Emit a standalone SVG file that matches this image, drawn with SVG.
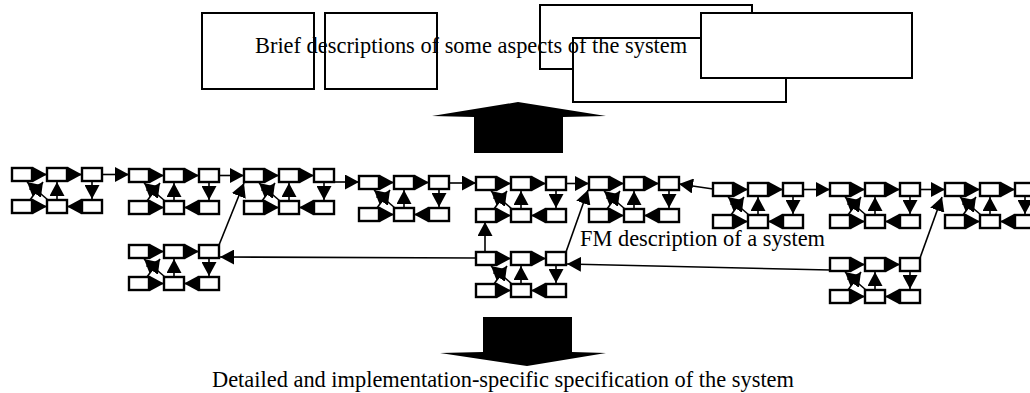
<svg xmlns="http://www.w3.org/2000/svg" width="1030" height="393" viewBox="0 0 1030 393">
  <style>
    .frame{fill:#fff;stroke:#000;stroke-width:2}
    .fmbox{fill:#fff;stroke:#000;stroke-width:2.4}
    .link{fill:none;stroke:#000;stroke-width:1.6;marker-end:url(#ah)}
    .lbl{font-family:"Liberation Serif","Times New Roman",serif;font-size:22.4px;fill:#000}
    .bigarrow{fill:#000;stroke:none}
  </style>
  <defs>
    <marker id="ah" markerUnits="userSpaceOnUse" markerWidth="14" markerHeight="15" viewBox="0 0 14 15" refX="14" refY="7.5" orient="auto">
      <path d="M0,0L14,7.5L0,15Z"/>
    </marker>
    <!-- one FM fragment: three upper and three lower boxes with their links -->
    <g id="fm">
      <rect class="fmbox" x="0" y="0" width="20" height="13"/>
      <rect class="fmbox" x="35" y="0" width="20" height="13"/>
      <rect class="fmbox" x="70" y="0" width="20" height="13"/>
      <rect class="fmbox" x="0" y="32" width="20" height="13"/>
      <rect class="fmbox" x="35" y="32" width="20" height="13"/>
      <rect class="fmbox" x="70" y="32" width="20" height="13"/>
      <path class="link" d="M20,6.5H35"/>
      <path class="link" d="M55,6.5H70"/>
      <path class="link" d="M80,13V31"/>
      <path class="link" d="M70,38.5H55"/>
      <path class="link" d="M20,38.5H35"/>
      <path class="link" d="M45,32V14"/>
      <path class="link" d="M36,32L15,14"/>
      <path class="link" d="M18,32L31,14"/>
    </g>
  </defs>

  <!-- brief descriptions -->
  <g id="brief-1"><rect class="frame" x="202" y="13" width="112" height="76"/></g>
  <g id="brief-2"><rect class="frame" x="325" y="13" width="112" height="76"/></g>
  <g id="brief-3"><rect class="frame" x="540" y="5" width="212" height="64"/></g>
  <g id="brief-4"><rect class="frame" x="573" y="38" width="213" height="64"/></g>
  <g id="brief-5"><rect class="frame" x="701" y="13" width="211" height="65"/></g>

  <!-- abstraction / refinement arrows -->
  <path class="bigarrow" d="M518,102L606,116L563,117L563,153L474,153L474,117L432,116Z"/>
  <path class="bigarrow" d="M483,317L572,317L572,352L606,353L527,366L440,353L483,352Z"/>

  <!-- links between fragments -->
  <g id="connectors">
    <path class="link" d="M102,174.5H129"/>
    <path class="link" d="M219,175.5H244"/>
    <path class="link" d="M334,182H359"/>
    <path class="link" d="M449,183H476"/>
    <path class="link" d="M566,183.5H589"/>
    <path class="link" d="M713,189L679,184"/>
    <path class="link" d="M803,189.5H830"/>
    <path class="link" d="M920,189.5H945"/>
    <path class="link" d="M219,245L244,183"/>
    <path class="link" d="M476,258L220,257"/>
    <path class="link" d="M485,252V222"/>
    <path class="link" d="M566,252L588,190"/>
    <path class="link" d="M830,270L567,264"/>
    <path class="link" d="M920,258L942,197"/>
  </g>

  <!-- FM fragments -->
  <g id="fm-1" transform="translate(12,168)"><use href="#fm"/></g>
  <g id="fm-2" transform="translate(129,169)"><use href="#fm"/></g>
  <g id="fm-3" transform="translate(244,169)"><use href="#fm"/></g>
  <g id="fm-4" transform="translate(359,176)"><use href="#fm"/></g>
  <g id="fm-5" transform="translate(476,177)"><use href="#fm"/></g>
  <g id="fm-6" transform="translate(589,177)"><use href="#fm"/></g>
  <g id="fm-7" transform="translate(713,183)"><use href="#fm"/></g>
  <g id="fm-8" transform="translate(830,183)"><use href="#fm"/></g>
  <g id="fm-9" transform="translate(945,183)"><use href="#fm"/></g>
  <g id="fm-10" transform="translate(129,245)"><use href="#fm"/></g>
  <g id="fm-11" transform="translate(476,252)"><use href="#fm"/></g>
  <g id="fm-12" transform="translate(830,258)"><use href="#fm"/></g>

  <!-- labels -->
  <text class="lbl" x="255" y="53">Brief descriptions of some aspects of the system</text>
  <text class="lbl" x="580" y="246">FM description of a system</text>
  <text class="lbl" x="212" y="387">Detailed and implementation-specific specification of the system</text>
</svg>
